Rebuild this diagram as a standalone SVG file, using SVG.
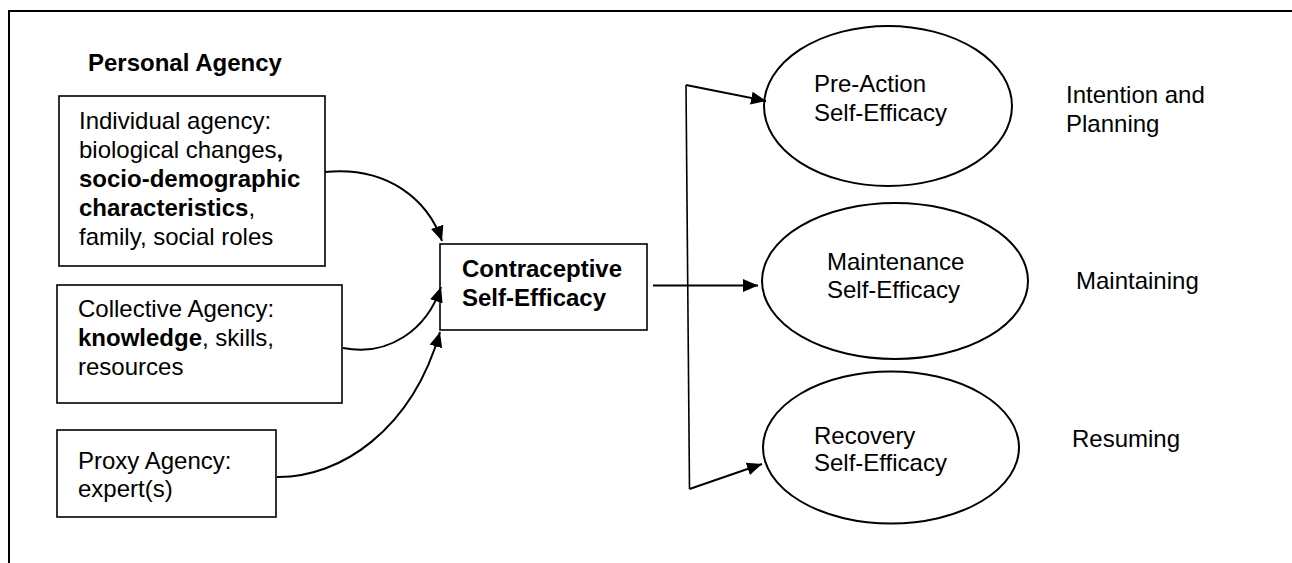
<svg xmlns="http://www.w3.org/2000/svg" width="1292" height="563" viewBox="0 0 1292 563">
  <style>
    text { font-family: "Liberation Sans", Arial, sans-serif; font-size: 24px; fill: #000; }
    .b { font-weight: bold; }
    .box { fill: #fff; stroke: #000; stroke-width: 1.6; }
    .ell { fill: #fff; stroke: #000; stroke-width: 2; }
    .conn { fill: none; stroke: #000; stroke-width: 2; }
  </style>
  <defs>
    <marker id="ah" markerUnits="userSpaceOnUse" markerWidth="16" markerHeight="13" refX="15" refY="6.5" orient="auto">
      <path d="M0,0 L15,6.5 L0,13 z" fill="#000"/>
    </marker>
  </defs>
  <rect width="1292" height="563" fill="#fff"/>
  <g id="frame">
    <path d="M9,563 L9,11 L1292,11" fill="none" stroke="#000" stroke-width="2"/>
  </g>
  <g id="title">
    <text class="b" x="88" y="71">Personal Agency</text>
  </g>
  <g id="individual">
    <rect class="box" x="59" y="96" width="266" height="170"/>
    <text x="79" y="129">Individual agency:</text>
    <text x="79" y="158">biological changes<tspan class="b">,</tspan></text>
    <text class="b" x="79" y="187">socio-demographic</text>
    <text x="79" y="216"><tspan class="b">characteristics</tspan>,</text>
    <text x="79" y="245">family, social roles</text>
  </g>
  <g id="collective">
    <rect class="box" x="57" y="285" width="285" height="118"/>
    <text x="78" y="317">Collective Agency:</text>
    <text x="78" y="346"><tspan class="b">knowledge</tspan>, skills,</text>
    <text x="78" y="375">resources</text>
  </g>
  <g id="proxy">
    <rect class="box" x="57" y="430" width="219" height="87"/>
    <text x="78" y="469">Proxy Agency:</text>
    <text x="78" y="497">expert(s)</text>
  </g>
  <g id="contraceptive">
    <rect class="box" x="440" y="244" width="207" height="86"/>
    <text class="b" x="462" y="277">Contraceptive</text>
    <text class="b" x="462" y="306">Self-Efficacy</text>
  </g>
  <g id="preaction">
    <ellipse class="ell" cx="888" cy="106" rx="124" ry="80"/>
    <text x="814" y="92">Pre-Action</text>
    <text x="814" y="121">Self-Efficacy</text>
  </g>
  <g id="maintenance">
    <ellipse class="ell" cx="895" cy="281" rx="133" ry="78"/>
    <text x="827" y="270">Maintenance</text>
    <text x="827" y="298">Self-Efficacy</text>
  </g>
  <g id="recovery">
    <ellipse class="ell" cx="891" cy="447.5" rx="128" ry="76"/>
    <text x="814" y="444">Recovery</text>
    <text x="814" y="471">Self-Efficacy</text>
  </g>
  <g id="labels">
    <text x="1066" y="103">Intention and</text>
    <text x="1066" y="132">Planning</text>
    <text x="1076" y="289">Maintaining</text>
    <text x="1072" y="447">Resuming</text>
  </g>
  <g id="connectors">
    <path class="conn" d="M325,172 C388,166 428,200 442,241" marker-end="url(#ah)"/>
    <path class="conn" d="M343,348 C388,357 427,330 441,287" marker-end="url(#ah)"/>
    <path class="conn" d="M277,477 C340,478 412,430 440,332" marker-end="url(#ah)"/>
    <path class="conn" d="M653,285.5 L758,285.5" marker-end="url(#ah)"/>
    <path d="M686,85 L689.5,489" fill="none" stroke="#000" stroke-width="1.6"/>
    <path class="conn" d="M686,85 L766,101" marker-end="url(#ah)"/>
    <path class="conn" d="M689.5,489 L762,464" marker-end="url(#ah)"/>
  </g>
</svg>
